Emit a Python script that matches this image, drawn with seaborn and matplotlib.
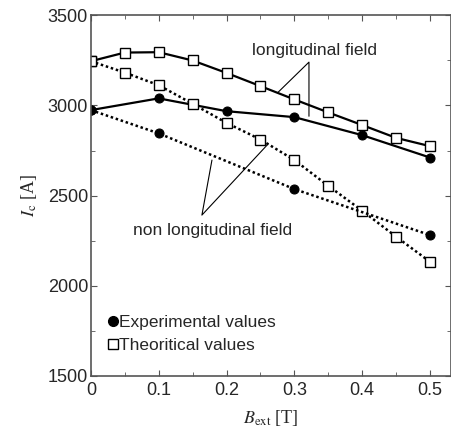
import matplotlib
matplotlib.use('Agg')
import matplotlib.pyplot as plt
from matplotlib.lines import Line2D
from matplotlib.ticker import MultipleLocator
import numpy as np
import pandas as pd
import seaborn as sns

# theoretical values, 0.05 T steps
b_theo = [0.0, 0.05, 0.1, 0.15, 0.2, 0.25, 0.3, 0.35, 0.4, 0.45, 0.5]
ic_theo_long = [3245, 3293, 3295, 3249, 3180, 3107, 3033, 2961, 2891, 2820, 2774]
ic_theo_nonlong = [3245, 3182, 3112, 3009, 2903, 2811, 2697, 2554, 2416, 2272, 2133]

# experimental values
b_exp_long = [0.0, 0.1, 0.2, 0.3, 0.4, 0.5]
ic_exp_long = [2974, 3039, 2968, 2935, 2835, 2711]
b_exp_nonlong = [0.0, 0.1, 0.3, 0.5]
ic_exp_nonlong = [2974, 2845, 2536, 2281]


def main():
    sns.set_style('ticks')
    plt.rcParams['font.family'] = ['Liberation Sans', 'DejaVu Sans']
    plt.rcParams['mathtext.fontset'] = 'stix'

    fig = plt.figure(figsize=(4.52, 4.30), dpi=100)
    ax = fig.add_axes([0.201, 0.1256, 0.797, 0.839])

    lw_solid = 1.6
    lw_dot = 1.8
    circ = dict(marker='o', markersize=6.5, markerfacecolor='black',
                markeredgecolor='black')
    sq = dict(marker='s', markersize=7, markerfacecolor='white',
              markeredgecolor='black', markeredgewidth=1.0)

    sns.lineplot(x=b_theo, y=ic_theo_long, ax=ax, color='black',
                 linewidth=lw_solid, linestyle='-', **sq)
    sns.lineplot(x=b_exp_long, y=ic_exp_long, ax=ax, color='black',
                 linewidth=lw_solid, linestyle='-', **circ)
    sns.lineplot(x=b_theo, y=ic_theo_nonlong, ax=ax, color='black',
                 linewidth=lw_dot, linestyle=(0, (1, 1.1)), **sq)
    sns.lineplot(x=b_exp_nonlong, y=ic_exp_nonlong, ax=ax, color='black',
                 linewidth=lw_dot, linestyle=(0, (1, 1.1)), **circ)

    # annotation leader lines
    ax.plot([0.276, 0.3215, 0.3215], [3073, 3240, 2940], color='black', lw=0.8)
    ax.plot([0.1785, 0.1637, 0.261], [2697, 2392, 2785], color='black', lw=0.8)
    ax.text(0.330, 3306, 'longitudinal field', ha='center', va='center', fontsize=12.5)
    ax.text(0.180, 2309, 'non longitudinal field', ha='center', va='center', fontsize=12.5)

    ax.set_xlim(0, 0.531)
    ax.set_ylim(1500, 3500)
    ax.xaxis.set_major_locator(MultipleLocator(0.1))
    ax.xaxis.set_minor_locator(MultipleLocator(0.05))
    ax.yaxis.set_major_locator(MultipleLocator(500))
    ax.yaxis.set_minor_locator(MultipleLocator(250))
    ax.set_xticks([0, 0.1, 0.2, 0.3, 0.4, 0.5])
    ax.set_xticklabels(['0', '0.1', '0.2', '0.3', '0.4', '0.5'])
    ax.tick_params(which='both', direction='in', top=True, right=True,
                   labelsize=13, color='#555555', pad=2)
    ax.tick_params(axis='x', pad=4)
    ax.tick_params(which='major', length=4)
    ax.tick_params(which='minor', length=3)
    for s in ax.spines.values():
        s.set_color('#555555')
        s.set_linewidth(1.2)

    ax.set_xlabel(r'$B_{\rm ext}$ [T]', fontsize=13, family='Liberation Serif', labelpad=7)
    ax.set_ylabel(r'$I_{\rm c}$ [A]', fontsize=13, family='Liberation Serif', labelpad=6)

    handles = [
        Line2D([], [], linestyle='none', marker='o', markersize=7,
               markerfacecolor='black', markeredgecolor='black'),
        Line2D([], [], linestyle='none', marker='s', markersize=7,
               markerfacecolor='white', markeredgecolor='black', markeredgewidth=1.0),
    ]
    ax.legend(handles, ['Experimental values', 'Theoritical values'],
              loc='lower left', bbox_to_anchor=(0.0, 0.015), frameon=False,
              fontsize=12.5, handlelength=0.6, handletextpad=0.05,
              labelspacing=0.45, borderaxespad=0.6)

    fig.savefig('out.png', dpi=100)


if __name__ == "__main__":
    main()
